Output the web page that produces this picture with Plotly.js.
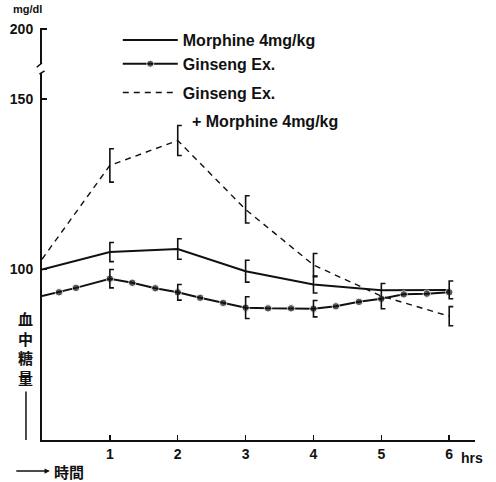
<!DOCTYPE html>
<html>
<head>
<meta charset="utf-8">
<script src="https://cdn.plot.ly/plotly-3.0.1.min.js"></script>
<style>html,body{margin:0;padding:0;background:#fff;}#chart{width:496px;height:482px;}</style>
</head>
<body>
<div id="chart"></div>
<script>
// ---- data ----
var hours = [0, 1, 2, 3, 4, 5, 6];
var morphine = [100, 105.1, 106.0, 99.5, 95.6, 93.9, 94.0];
var morphineErr = [null, 2.8, 3.0, 3.2, 2.5, null, 2.6];

var ginsengHours = [0, 0.25, 0.5, 1, 1.33, 1.67, 2, 2.33, 2.67, 3, 3.33, 3.67, 4, 4.33, 4.67, 5, 5.33, 5.67, 6];
var ginseng = [92.2, 93.3, 94.6, 97.3, 96.1, 94.5, 93.3, 91.7, 90.2, 88.8, 88.6, 88.6, 88.5, 89.2, 90.5, 91.4, 92.7, 92.9, 93.3];
var ginsengErrHours = [1, 2, 3, 4];
var ginsengErrVals = [97.3, 93.3, 88.8, 88.5];
var ginsengErr = [2.7, 2.3, 3.2, 2.4];

var combo = [103, 130.5, 137.8, 117.6, 101.3, 92.2, 86.3];
var comboErr = [null, 4.9, 4.4, 4.0, 3.4, 3.7, 2.8];

var xTickVals = [1, 2, 3, 4, 5, 6];
var xTickText = ['1', '2', '3', '4', '5', '6'];
var yTickVals = [100, 150];
var yTopTickVals = [200];

var seriesNames = ['Morphine 4mg/kg', 'Ginseng Ex.', 'Ginseng Ex.'];
var comboSecondLine = '+ Morphine 4mg/kg';

// bracket "[" shaped error marks built from the data
var CAP = 0.06;
function brackets(xs, ys, es) {
  var bx = [], by = [];
  for (var i = 0; i < xs.length; i++) {
    if (es[i] == null) continue;
    var x = xs[i], y = ys[i], e = es[i];
    bx.push(x + CAP, x, x, x + CAP, null);
    by.push(y + e, y + e, y - e, y - e, null);
  }
  return {x: bx, y: by};
}

var bM = brackets(hours, morphine, morphineErr);
var bG = brackets(ginsengErrHours, ginsengErrVals, ginsengErr);
var bC = brackets(hours, combo, comboErr);

var ink = '#111';
var gSizes = ginseng.map(function (v, i) { return i === 0 ? 0 : 7.5; });

var traces = [
  {x: hours, y: morphine, mode: 'lines', name: seriesNames[0], legendgroup: 'a',
   line: {color: ink, width: 2}},
  {x: ginsengHours, y: ginseng, mode: 'lines+markers', name: seriesNames[1], legendgroup: 'a',
   line: {color: ink, width: 2}, marker: {color: ink, size: gSizes}},
  {x: hours, y: combo, mode: 'lines', name: seriesNames[2], legendgroup: 'c',
   line: {color: ink, width: 1.4, dash: '6px,5px'}},
  {x: bM.x, y: bM.y, mode: 'lines', showlegend: false, hoverinfo: 'skip', line: {color: ink, width: 1.6}},
  {x: bG.x, y: bG.y, mode: 'lines', showlegend: false, hoverinfo: 'skip', line: {color: ink, width: 1.6}},
  {x: bC.x, y: bC.y, mode: 'lines', showlegend: false, hoverinfo: 'skip', line: {color: ink, width: 1.6}},
  // upper axis segment needs a trace to be drawn
  {x: [0], y: [200], yaxis: 'y2', mode: 'markers', marker: {size: 0, opacity: 0}, showlegend: false, hoverinfo: 'skip'}
];

var tickFont = {family: 'Liberation Sans, Arial, sans-serif', size: 14, color: ink, weight: 'bold'};
var legFont = {family: 'Liberation Sans, Arial, sans-serif', size: 16, color: ink, weight: 'bold'};

var layout = {
  width: 496, height: 482,
  margin: {l: 42, r: 21, t: 28, b: 42},
  paper_bgcolor: '#fff', plot_bgcolor: '#fff',
  showlegend: true,
  legend: {x: 0.175, y: 1.012, xanchor: 'left', yanchor: 'top', valign: 'middle',
    bgcolor: 'rgba(0,0,0,0)', tracegroupgap: 5, itemwidth: 55, font: legFont},
  xaxis: {range: [0, 6.38], showgrid: false, zeroline: false, showline: true,
    linecolor: ink, linewidth: 2, ticks: 'inside', ticklen: 5, tickwidth: 1.5, tickcolor: ink,
    tickvals: xTickVals, ticktext: xTickText, tickfont: tickFont, fixedrange: true},
  yaxis: {domain: [0, 0.8908], range: [50, 157.6], showgrid: false, zeroline: false, showline: true,
    linecolor: ink, linewidth: 2, ticks: 'inside', ticklen: 5, tickwidth: 1.5, tickcolor: ink,
    tickvals: yTickVals, tickfont: tickFont, ticklabelstandoff: 4},
  yaxis2: {domain: [0.9126, 1], range: [190.3, 200.3], showgrid: false, zeroline: false, showline: true,
    linecolor: ink, linewidth: 2, ticks: 'inside', ticklen: 5, tickwidth: 1.5, tickcolor: ink,
    tickvals: yTopTickVals, tickfont: tickFont, ticklabelstandoff: 4, anchor: 'x'},
  shapes: [
    {type: 'line', xref: 'paper', yref: 'paper', x0: -0.012, y0: 0.905, x1: 0.0, y1: 0.915, line: {color: ink, width: 1.5}},
    {type: 'line', xref: 'paper', yref: 'paper', x0: -0.006, y0: 0.888, x1: 0.006, y1: 0.896, line: {color: ink, width: 1.5}}
  ],
  annotations: [
    {xref: 'paper', yref: 'paper', x: 0.342, xanchor: 'left', y: (440 - 121) / 412, yanchor: 'middle',
     text: comboSecondLine, showarrow: false, font: legFont},
    {xref: 'paper', yref: 'paper', x: -0.039, xanchor: 'center', y: (440 - 348) / 412, yanchor: 'middle', text: '血<br>中<br>糖<br>量', showarrow: false,
     font: {family: 'Noto Sans CJK JP, sans-serif', size: 15, color: ink, weight: 'bold'}, align: 'center'},
    {xref: 'paper', yref: 'paper', x: -0.037, y: 0.0, ax: 0, ay: -50, text: '', showarrow: true,
     arrowhead: 0, arrowwidth: 1.5, arrowcolor: ink, standoff: 0, startstandoff: 0},
    {xref: 'paper', yref: 'paper', x: 0.018, y: (440 - 471) / 412, text: '', showarrow: true,
     ax: -35, ay: 0, arrowhead: 2, arrowsize: 0.7, arrowwidth: 1.5, arrowcolor: ink, standoff: 0},
    {xref: 'paper', yref: 'paper', x: 0.024, xanchor: 'left', y: (440 - 471) / 412, yanchor: 'middle', text: '時間', showarrow: false,
     font: {family: 'Noto Sans CJK JP, sans-serif', size: 15, color: ink, weight: 'bold'}},
    {xref: 'paper', yref: 'paper', x: 0.963, xanchor: 'left', y: (440 - 458) / 412, yanchor: 'middle', text: 'hrs', showarrow: false,
     font: {family: 'Liberation Sans, Arial, sans-serif', size: 14, color: ink, weight: 'bold'}},
    {xref: 'paper', yref: 'paper', x: -0.072, xanchor: 'left', y: (440 - 9) / 412, yanchor: 'middle', text: 'mg/dl', showarrow: false,
     font: {family: 'Liberation Sans, Arial, sans-serif', size: 11, color: ink, weight: 'bold'}}
  ]
};

Plotly.newPlot('chart', traces, layout, {staticPlot: true, displayModeBar: false});
</script>
</body>
</html>
